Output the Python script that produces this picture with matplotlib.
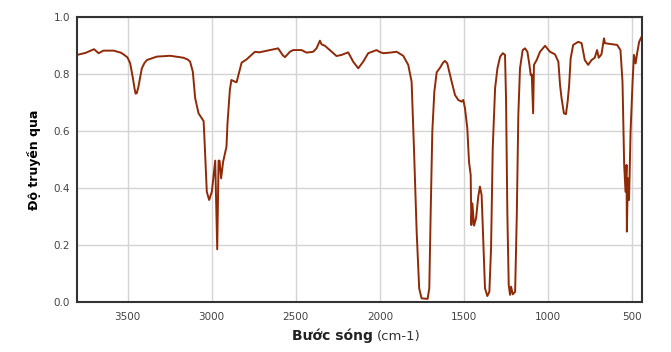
import matplotlib.pyplot as plt

# IR spectrum (wavenumber in cm-1, transmittance)
wavenumber = [3800, 3750, 3712, 3699, 3672, 3643, 3583, 3540, 3524, 3500, 3484, 3468, 3458, 3452,
              3445, 3435, 3415, 3400, 3385, 3326, 3247, 3167, 3140, 3128, 3112, 3098, 3078,
              3048, 3042, 3029, 3015, 2999, 2979, 2967, 2959, 2953, 2944, 2932, 2912, 2906,
              2892, 2883, 2862, 2852, 2822, 2793, 2743, 2717, 2605, 2579, 2565, 2535, 2516,
              2466, 2436, 2397, 2377, 2357, 2347, 2327, 2258, 2228, 2189, 2159, 2129, 2100,
              2070, 2020, 2004, 1980, 1941, 1901, 1862, 1832, 1812, 1798, 1782, 1767, 1753,
              1717, 1707, 1699, 1689, 1677, 1663, 1643, 1625, 1614, 1600, 1574, 1554, 1535,
              1515, 1505, 1495, 1481, 1471, 1461, 1457, 1451, 1441, 1429, 1416, 1406, 1396,
              1386, 1376, 1362, 1350, 1340, 1330, 1316, 1302, 1286, 1270, 1257, 1251, 1243,
              1235, 1227, 1221, 1211, 1197, 1187, 1178, 1168, 1152, 1138, 1124, 1112, 1104,
              1098, 1090, 1085, 1069, 1049, 1019, 990, 960, 940, 930, 921, 907, 895,
              885, 876, 867, 852, 822, 802, 783, 763, 743, 724, 710, 700, 684,
              669, 663, 615, 591, 571, 559, 549, 541, 535, 533, 527, 520, 511,
              499, 491, 481, 472, 460, 446]
transmittance = [0.867, 0.874, 0.884, 0.887, 0.873, 0.882, 0.882, 0.875, 0.869, 0.858, 0.837, 0.785, 0.748, 0.731,
                 0.733, 0.756, 0.820, 0.838, 0.849, 0.861, 0.864, 0.857, 0.850, 0.843, 0.808, 0.715, 0.662,
                 0.635, 0.562, 0.387, 0.358, 0.387, 0.496, 0.185, 0.496, 0.496, 0.434, 0.492, 0.545, 0.627,
                 0.744, 0.779, 0.773, 0.771, 0.840, 0.851, 0.878, 0.876, 0.890, 0.867, 0.859, 0.878, 0.884,
                 0.884, 0.875, 0.878, 0.890, 0.917, 0.904, 0.899, 0.863, 0.867, 0.876, 0.843, 0.820, 0.843,
                 0.873, 0.884, 0.878, 0.873, 0.875, 0.878, 0.864, 0.832, 0.773, 0.539, 0.247, 0.048, 0.013,
                 0.011, 0.048, 0.305, 0.598, 0.738, 0.806, 0.822, 0.840, 0.846, 0.837, 0.773, 0.726, 0.709,
                 0.703, 0.709, 0.680, 0.609, 0.492, 0.446, 0.270, 0.346, 0.268, 0.294, 0.370, 0.405, 0.375,
                 0.212, 0.048, 0.021, 0.036, 0.188, 0.539, 0.750, 0.820, 0.861, 0.873, 0.867, 0.715, 0.305,
                 0.060, 0.025, 0.054, 0.027, 0.036, 0.305, 0.656, 0.820, 0.884, 0.890, 0.878, 0.832, 0.796,
                 0.798, 0.662, 0.832, 0.849, 0.878, 0.899, 0.878, 0.869, 0.843, 0.761, 0.715, 0.662, 0.659,
                 0.703, 0.761, 0.855, 0.902, 0.913, 0.908, 0.849, 0.832, 0.849, 0.857, 0.884, 0.857, 0.869,
                 0.925, 0.908, 0.904, 0.902, 0.884, 0.773, 0.481, 0.387, 0.481, 0.247, 0.434, 0.358, 0.598,
                 0.773, 0.867, 0.837, 0.873, 0.913, 0.930]

x_ticks = [3500, 3000, 2500, 2000, 1500, 1000, 500]
y_ticks = [0.0, 0.2, 0.4, 0.6, 0.8, 1.0]

fig = plt.figure(figsize=(6.71, 3.52), dpi=100)
ax = fig.add_axes([0.1148, 0.142, 0.842, 0.8097])

ax.plot(wavenumber, transmittance, color='#8f2a08', linewidth=1.4)

ax.set_xlim(3800, 443)
ax.set_ylim(0, 1.0)
ax.set_xticks(x_ticks)
ax.set_yticks(y_ticks)
ax.set_yticklabels(['%.1f' % v for v in y_ticks])
ax.grid(True, color='#d4d4d4', linewidth=1.0)
ax.set_axisbelow(True)
ax.tick_params(length=0, labelsize=7.5, labelcolor='#444444', pad=7)
ax.tick_params(axis='y', pad=5)
for sp in ax.spines.values():
    sp.set_color('#333333')
    sp.set_linewidth(1.5)

ax.set_ylabel('Độ truyền qua', fontsize=9, fontweight='bold', labelpad=9)
fig.text(0.555, 0.035, 'Bước sóng', fontsize=10, fontweight='bold', ha='right', color='#222222')
fig.text(0.562, 0.035, '(cm-1)', fontsize=9.5, ha='left', color='#333333')

fig.savefig('out.png', dpi=100)
